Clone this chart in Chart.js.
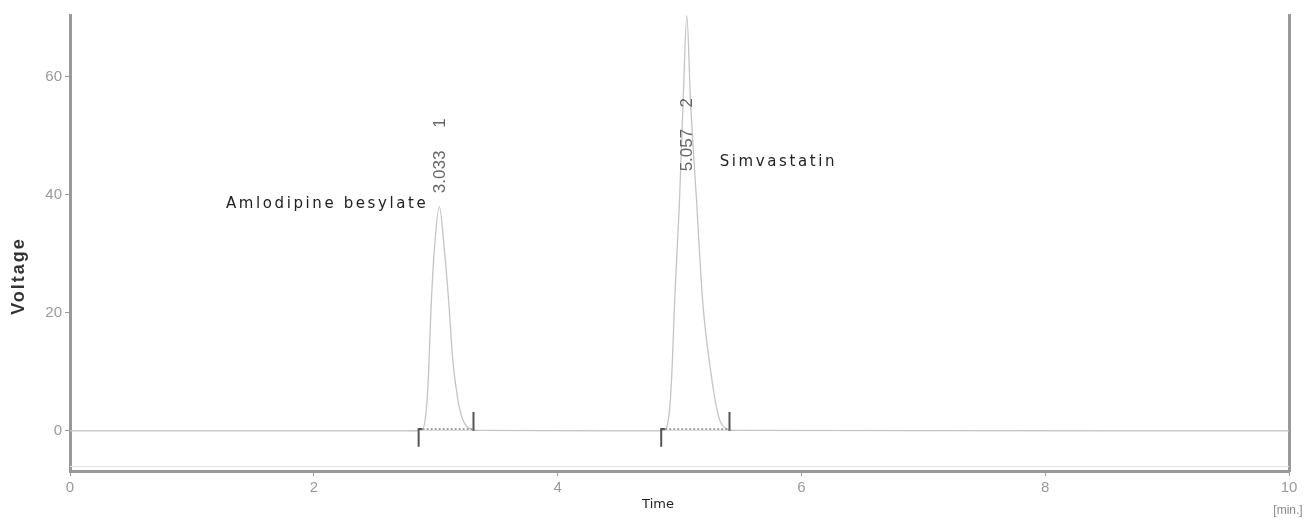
<!DOCTYPE html>
<html>
<head>
<meta charset="utf-8">
<script src="https://cdn.jsdelivr.net/npm/chart.js@4"></script>
<style>
  html, body { margin: 0; padding: 0; background: #fff; }
  #wrap { width: 1311px; height: 519px; }
</style>
</head>
<body>
<div id="wrap"><canvas id="chromChart" width="1311" height="519"></canvas></div>
<script>
// chromatogram trace
var timeMin = [0, 2.80, 2.89, 2.92, 2.94, 2.96, 2.99, 3.03, 3.07, 3.11, 3.14, 3.18, 3.22, 3.27, 3.35,
               4.75, 4.87, 4.90, 4.92, 4.94, 4.96, 5.00, 5.03, 5.06, 5.09, 5.14, 5.19, 5.25, 5.32, 5.38, 5.45, 10];
var voltage = [0, 0, 0.2, 3, 9, 20, 31, 38, 31, 21, 12, 5.5, 2, 0.5, 0.1,
               0, 0.1, 1, 4, 11, 22, 39, 56, 70.4, 56, 39, 22, 11, 2.5, 0.4, 0.1, 0];

// integration marks
var peakStart = [2.86, 4.85];
var peakEnd = [3.31, 5.41];

// peak labels
var peakTime = [3.033, 5.057];
var peakNumber = ['1', '2'];
var peakName = ['Amlodipine besylate', 'Simvastatin'];

var xTicks = [0, 2, 4, 6, 8, 10];
var yTicks = [0, 20, 40, 60];

document.addEventListener('DOMContentLoaded', function() {
    var ctx = document.getElementById('chromChart').getContext('2d');

    var datasets = [{
        data: timeMin.map(function(t, i) { return {x: t, y: voltage[i]}; }),
        borderColor: '#c4c4c4',
        borderWidth: 1.3,
        pointRadius: 0,
        cubicInterpolationMode: 'monotone',
        order: 5
    }];

    peakStart.forEach(function(t, i) {
        datasets.push({
            data: [{x: t, y: -2.7}, {x: t, y: 0.3}, {x: t + 0.03, y: 0.3}],
            borderColor: '#555', borderWidth: 2, pointRadius: 0
        });
        datasets.push({
            data: [{x: t, y: 0.3}, {x: peakEnd[i], y: 0.3}],
            borderColor: '#888', borderWidth: 1.5, borderDash: [2, 2], pointRadius: 0
        });
        datasets.push({
            data: [{x: peakEnd[i], y: 0}, {x: peakEnd[i], y: 3.2}],
            borderColor: '#555', borderWidth: 2, pointRadius: 0
        });
    });

    var labelPlugin = {
        id: 'chromLabels',
        afterDatasetsDraw: function(chart) {
            var c = chart.ctx, xs = chart.scales.x, ys = chart.scales.y, area = chart.chartArea;
            c.save();

            // faint inner line above the time axis
            c.strokeStyle = '#e6e6e6';
            c.lineWidth = 1;
            c.beginPath();
            c.moveTo(area.left, area.bottom - 4.5);
            c.lineTo(area.right, area.bottom - 4.5);
            c.stroke();

            // rotated retention times and peak numbers
            var numY = [43.9, 47.6];
            var idxY = [52.2, 55.6];
            c.fillStyle = '#666';
            c.font = '17px "Liberation Sans", Arial, sans-serif';
            c.textAlign = 'center';
            c.textBaseline = 'middle';
            peakTime.forEach(function(t, i) {
                var px = xs.getPixelForValue(t) + 1;
                c.save();
                c.translate(px, ys.getPixelForValue(numY[i]));
                c.rotate(-Math.PI / 2);
                c.fillText(t.toFixed(3), 0, 0);
                c.restore();
                c.save();
                c.translate(px, ys.getPixelForValue(idxY[i]));
                c.rotate(-Math.PI / 2);
                c.fillText(peakNumber[i], 0, 0);
                c.restore();
            });

            // compound names
            c.fillStyle = '#222';
            c.font = '15px "DejaVu Sans", Verdana, sans-serif';
            c.letterSpacing = '2.6px';
            c.textAlign = 'right';
            c.fillText(peakName[0], xs.getPixelForValue(2.94), ys.getPixelForValue(38.5));
            c.textAlign = 'left';
            c.fillText(peakName[1], xs.getPixelForValue(5.33), ys.getPixelForValue(45.5));
            c.letterSpacing = '0px';

            // axis titles
            c.fillStyle = '#222';
            c.textAlign = 'center';
            c.font = '13px "DejaVu Sans", Verdana, sans-serif';
            c.fillText('Time', 658, 505);
            c.fillStyle = '#888';
            c.font = '12px "Liberation Sans", Arial, sans-serif';
            c.fillText('[min.]', 1288, 511);

            c.save();
            c.translate(19, 276);
            c.rotate(-Math.PI / 2);
            c.fillStyle = '#333';
            c.font = 'bold 18px "Liberation Sans", Arial, sans-serif';
            c.letterSpacing = '2px';
            c.fillText('Voltage', 0, 0);
            c.restore();

            c.restore();
        }
    };

    new Chart(ctx, {
        type: 'line',
        data: { datasets: datasets },
        options: {
            responsive: false,
            animation: false,
            layout: { padding: { top: 15, left: 0, right: 0, bottom: 0 } },
            plugins: {
                legend: { display: false },
                tooltip: { enabled: false }
            },
            scales: {
                x: {
                    type: 'linear',
                    min: 0,
                    max: 10,
                    afterBuildTicks: function(scale) {
                        scale.ticks = xTicks.map(function(v) { return {value: v}; });
                    },
                    afterFit: function(scale) { scale.height = 48; },
                    border: { color: '#999', width: 3 },
                    grid: { drawOnChartArea: false, tickLength: 5, tickColor: '#999' },
                    ticks: {
                        color: '#999',
                        padding: 3,
                        maxRotation: 0,
                        font: { family: '"Liberation Sans", Arial, sans-serif', size: 15 }
                    }
                },
                y: {
                    min: -6.8,
                    max: 70.5,
                    afterBuildTicks: function(scale) {
                        scale.ticks = yTicks.map(function(v) { return {value: v}; });
                    },
                    afterFit: function(scale) { scale.width = 70; },
                    border: { color: '#999', width: 3 },
                    grid: {
                        tickLength: 5,
                        tickColor: '#999',
                        color: function(c) { return c.tick && c.tick.value === 0 ? '#dcdcdc' : 'rgba(0,0,0,0)'; }
                    },
                    ticks: {
                        color: '#999',
                        padding: 3,
                        font: { family: '"Liberation Sans", Arial, sans-serif', size: 15 }
                    }
                },
                y2: {
                    position: 'right',
                    min: -6.8,
                    max: 70.5,
                    afterFit: function(scale) { scale.width = 22; },
                    border: { color: '#999', width: 3 },
                    grid: { drawOnChartArea: false, drawTicks: false },
                    ticks: { display: false }
                }
            }
        },
        plugins: [labelPlugin]
    });
});
</script>
</body>
</html>
